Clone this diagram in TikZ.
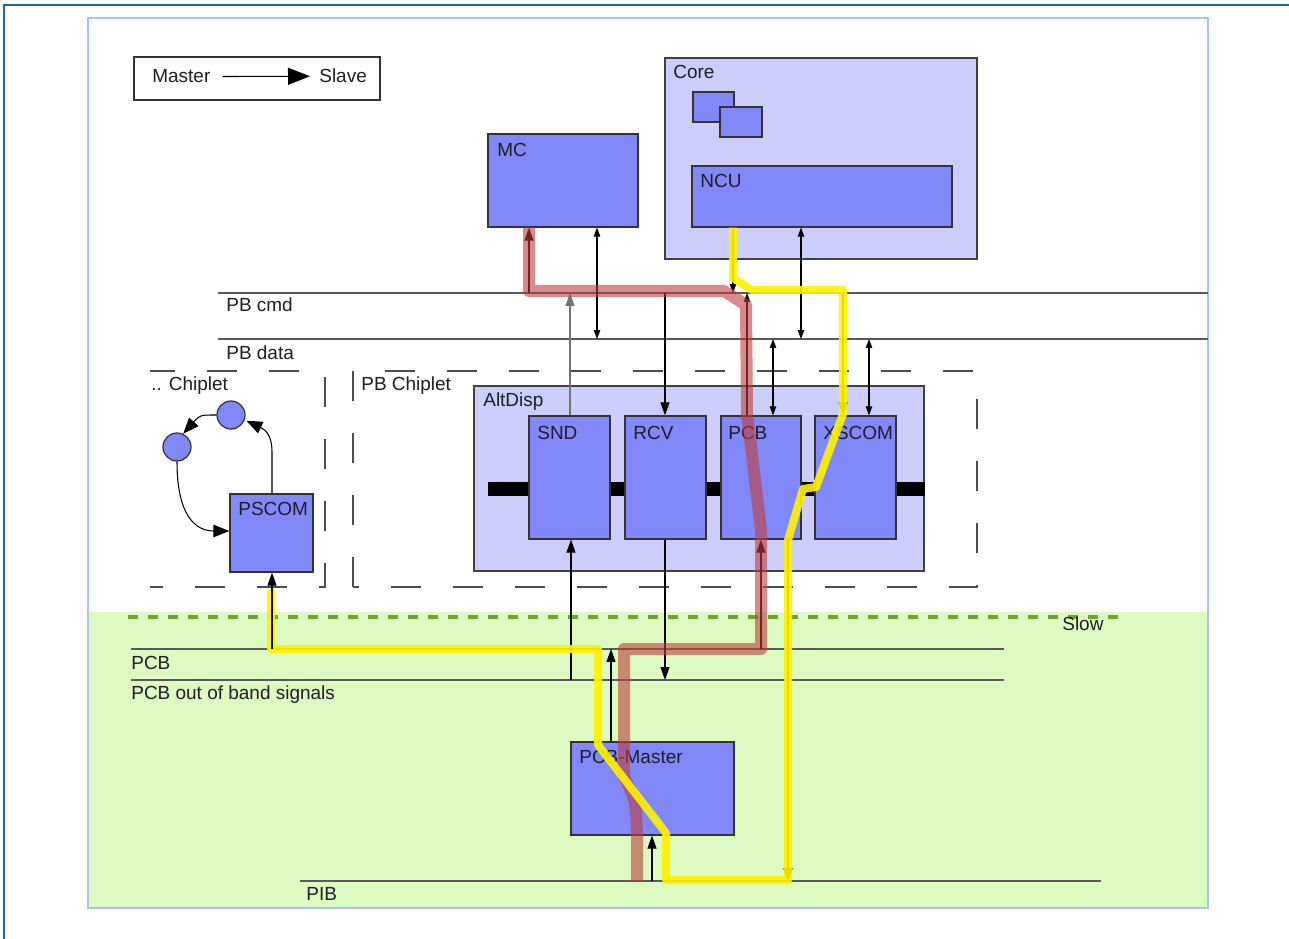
\documentclass[tikz,border=0pt]{standalone}
\usepackage{fontspec}
\setmainfont{Liberation Sans}
\usetikzlibrary{fit,arrows.meta}
\definecolor{blk}{RGB}{128,136,250}
\definecolor{lav}{RGB}{204,205,250}
\definecolor{slowgreen}{RGB}{221,251,192}
\definecolor{dgreen}{RGB}{110,165,45}
\definecolor{framebl}{RGB}{168,198,232}
\definecolor{pagebl}{RGB}{30,100,175}
\definecolor{redpath}{RGB}{192,60,60}
\definecolor{txt}{RGB}{30,30,40}
\begin{document}
\begin{tikzpicture}[x=0.02cm,y=-0.02cm,
  font=\fontsize{10.8}{13}\selectfont,
  every node/.style={text=txt},
  block/.style={draw=black!80,fill=blk,line width=0.7pt,inner sep=0pt},
  cont/.style={draw=black!75,fill=lav,line width=0.7pt,inner sep=0pt},
  lbl/.style={anchor=base west,inner sep=0pt},
  bus/.style={draw=black!65,line width=0.8pt},
  chip/.style={draw=black!70,line width=0.85pt,dash pattern=on 0.6cm off 0.64cm},
  conn/.style={draw=black,line width=0.6pt},
  tipA/.style={-{Triangle[length=0.26cm,width=0.18cm]}},
  tipAB/.style={{Triangle[length=0.18cm,width=0.13cm]}-{Triangle[length=0.18cm,width=0.13cm]}},
  bigtip/.style={-{Triangle[length=0.32cm,width=0.25cm]}},
  blackbar/.style={draw=black,line width=0.28cm},
  redhl/.style={draw=redpath,opacity=0.6,line width=0.24cm,line join=round},
  yelhl/.style={draw=yellow,opacity=0.9,line width=0.16cm,line join=round},
]
\useasboundingbox (0,0) rectangle (1289,939);
\fill[white] (0,0) rectangle (1289,939);
% page lines
\draw[pagebl,line width=0.7pt] (4,939) -- (4,5) -- (1289,5);
% outer frame and slow region
\fill[slowgreen] (88,612) rectangle (1208,908);
\draw[framebl,line width=1.1pt] (88,18) rectangle (1208,908);

% legend
\node[draw=black!80,line width=0.8pt,fit={(134,57)(380,100)},inner sep=0pt] (legend) {};
\node[lbl] (master) at (152,83) {Master};
\node[lbl] (slave) at (319,83) {Slave};
\draw[conn,-{Triangle[length=0.44cm,width=0.34cm]},shorten <=0.24cm,shorten >=0.18cm] (master.east) -- (slave.west);

% Core
\node[cont,fit={(665,58)(977,259)}] (core) {};
\node[lbl] (lcore) at (673,79) {Core};
\node[block,fit={(693,92)(734,122)}] (sq1) {};
\node[block,fit={(720,107)(762,137)}] (sq2) {};
\node[block,fit={(692,166)(952,227)}] (ncu) {};
\node[lbl] (lncu) at (700,188) {NCU};
% MC
\node[block,fit={(488,134)(638,227)}] (mc) {};
\node[lbl] (lmc) at (497,157) {MC};

% PB buses
\coordinate (cmdL) at (218,293); \coordinate (cmdR) at (1208,293);
\coordinate (datL) at (218,339); \coordinate (datR) at (1208,339);
\draw[bus] (cmdL) -- (cmdR);
\draw[bus] (datL) -- (datR);
\node[lbl] (lcmd) at (226,312) {PB cmd};
\node[lbl] (ldat) at (226,359) {PB data};

% chiplet dashed boxes
\draw[chip,dash phase=0.1cm] (150,371) -- (325,371) -- (325,587) -- (150,587);
\draw[chip] (353,587) -- (353,371) -- (977,371) -- (977,587) -- (353,587);
\node[lbl] (lchip1) at (151,391) {.. Chiplet};
\node[lbl] (lchip2) at (361,391) {PB Chiplet};

% AltDisp
\node[cont,fit={(474,386)(924,571)}] (alt) {};
\node[lbl] (lalt) at (483,406) {AltDisp};
\node[block,fit={(529,416)(610,539)}] (snd) {};
\node[block,fit={(625,416)(706,539)}] (rcv) {};
\node[block,fit={(721,416)(801,539)}] (pcb) {};
\node[block,fit={(815,416)(896,539)}] (xscom) {};
\draw[blackbar] (snd.west |- 0,489) -- (488,489);
\draw[blackbar] (snd.east |- 0,489) -- (rcv.west |- 0,489);
\draw[blackbar] (rcv.east |- 0,489) -- (pcb.west |- 0,489);
\draw[blackbar] (pcb.east |- 0,489) -- (xscom.west |- 0,489);
\draw[blackbar] (xscom.east |- 0,489) -- (alt.east |- 0,489);
\node[lbl] (lsnd) at (537,439) {SND};
\node[lbl] (lrcv) at (633,439) {RCV};
\node[lbl] (lpcb) at (728,439) {PCB};
\node[lbl] (lxscom) at (823,439) {XSCOM};

% left chiplet
\node[block,circle,minimum size=0.56cm] (c1) at (177,447) {};
\node[block,circle,minimum size=0.56cm] (c2) at (231,415) {};
\node[block,fit={(230,494)(313,572)}] (pscom) {};
\node[lbl] (lpscom) at (238,515) {PSCOM};
\draw[conn,bigtip,shorten >=1pt] (pscom.north -| 272,0) -- (272,452) .. controls (272,436) and (266,430) .. (c2.-20);
\draw[conn,bigtip] (c2.west) .. controls (200,415) .. (c1.65);
\draw[conn,bigtip] (c1.south) .. controls (177,515) and (195,531) .. (pscom.west |- 0,531);

% slow region
\draw[dgreen,line width=2.8pt,dash pattern=on 0.2cm off 0.2cm] (128,617) -- (1120,617);
\node[lbl] (lslow) at (1062,630) {Slow};
\coordinate (pcbL) at (131,649); \coordinate (pcbR) at (1004,649);
\coordinate (oobL) at (131,680); \coordinate (oobR) at (1004,680);
\coordinate (pibL) at (300,881); \coordinate (pibR) at (1101,881);
\draw[bus] (pcbL) -- (pcbR);
\draw[bus] (oobL) -- (oobR);
\draw[bus] (pibL) -- (pibR);
\node[lbl] (lpcbbus) at (131,669) {PCB};
\node[lbl] (loob) at (131,699) {PCB out of band signals};
\node[lbl] (lpib) at (306,900) {PIB};
\node[block,fit={(571,742)(734,835)}] (pcbm) {};
\node[lbl] (lpcbm) at (579,763) {PCB-Master};

% thin connectors
\draw[conn,tipAB] (mc.south -| 597,0) -- (597,339);
\draw[conn,tipAB] (ncu.south -| 801,0) -- (801,339);
\draw[conn,tipA,draw=black!55] (snd.north -| 570,0) -- (570,293);
\draw[conn,tipA] (665,293) -- (rcv.north -| 665,0);
\draw[conn,tipAB] (773,339) -- (pcb.north -| 773,0);
\draw[conn,tipAB] (869,339) -- (xscom.north -| 869,0);
\draw[conn,-{Triangle[length=0.18cm,width=0.13cm]}] (ncu.south -| 733,0) -- (733,293);
\draw[conn,-{Triangle[length=0.18cm,width=0.13cm]}] (pcb.north -| 747,0) -- (747,293);
\draw[conn,tipA] (529,293) -- (mc.south -| 529,0);
\draw[conn,tipA] (843,293) -- (xscom.north -| 843,0);
\draw[conn,tipA] (571,680) -- (snd.south -| 571,0);
\draw[conn,tipA] (rcv.south -| 665,0) -- (665,680);
\draw[conn,tipA] (761,649) -- (pcb.south -| 761,0);
\draw[conn,tipA] (pcbm.north -| 611,0) -- (611,649);
\draw[conn,tipA] (652,881) -- (pcbm.south -| 652,0);
\draw[conn,tipA] (pcb.south -| 788,0) -- (788,881);

% highlighted paths
\draw[redhl] (mc.south -| 529,0) -- (529,291) -- (724,291) -- (746,305) -- (747,413) -- (761,530) -- (761,649) -- (624,649) -- (624,777) .. controls (636,800) .. (637,836) -- (637,881);
\draw[yelhl] (ncu.south -| 733,0) -- (733,278) -- (752,290) -- (843,290) -- (843,414) -- (816,487) -- (803,489) -- (788,540) -- (788,880) -- (666,880) -- (666,833) -- (598,745) -- (598,649) -- (271,649) -- (271,590);
\draw[conn,tipA] (272,649) -- (pscom.south -| 272,0);
\end{tikzpicture}
\end{document}
